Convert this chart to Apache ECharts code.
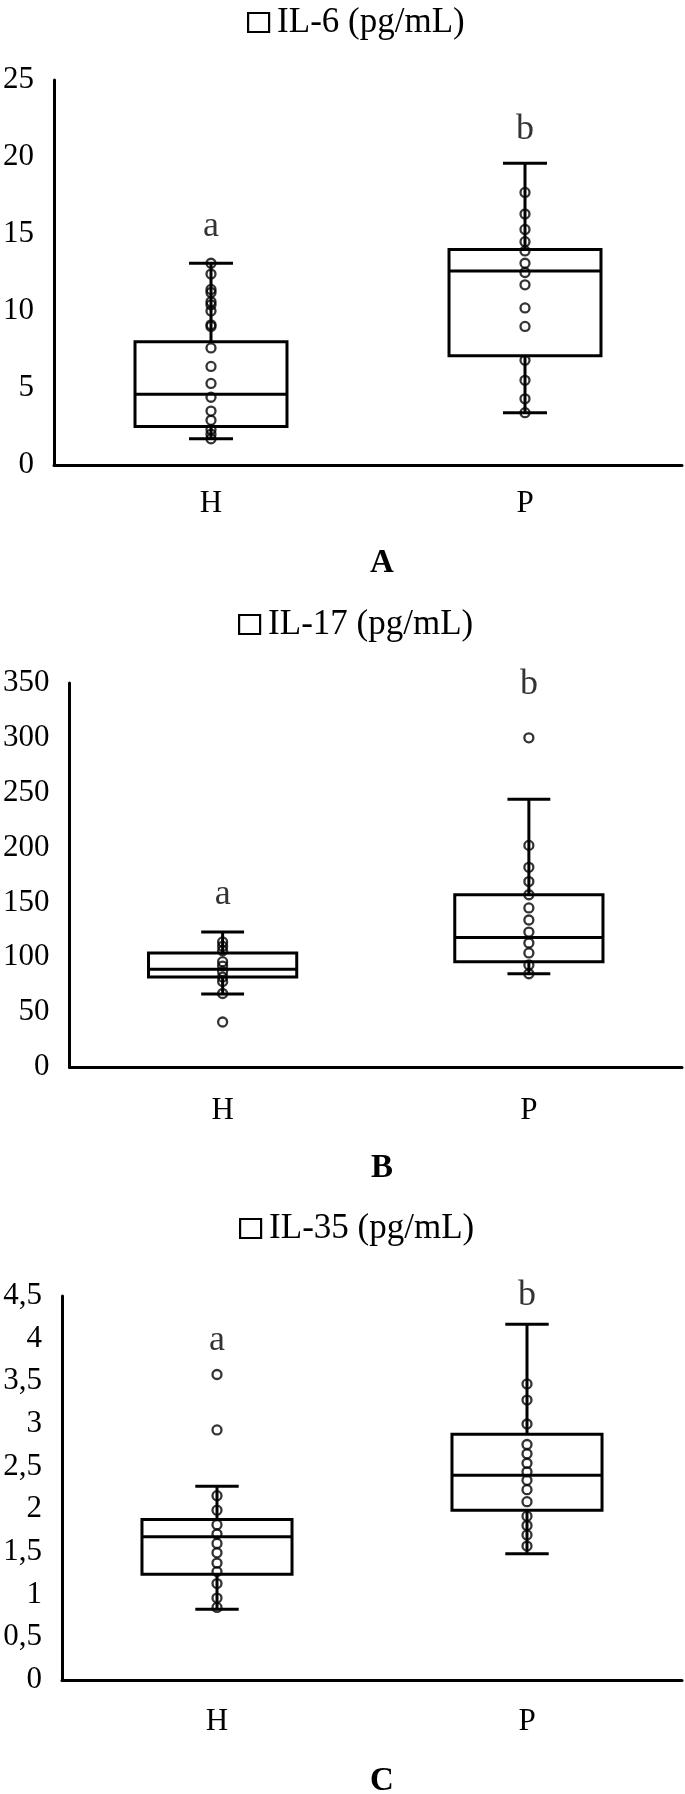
<!DOCTYPE html>
<html>
<head>
<meta charset="utf-8">
<script src="https://cdn.jsdelivr.net/npm/echarts@6/dist/echarts.min.js"></script>
<style>
  html, body { margin: 0; padding: 0; background: #fff; }
  #chart { width: 685px; height: 1794px; }
</style>
</head>
<body>
<div id="chart"></div>
<script>
// ---- data ----
const groups = ['H', 'P'];

// A: IL-6  box = [min, q1, median, q3, max]
const il6Box = [[1.7, 2.5, 4.6, 8.0, 13.1], [3.4, 7.1, 12.6, 14.0, 19.6]];
const il6H = [13.1, 12.4, 11.4, 11.2, 10.6, 10.4, 10.0, 9.1, 9.0, 7.6, 6.4, 5.3, 4.4, 3.5, 2.9, 2.3, 2.0, 1.7];
const il6P = [17.7, 16.3, 15.3, 14.5, 13.9, 13.1, 12.5, 11.7, 10.2, 9.0, 6.8, 5.5, 4.3, 3.4];
const il6Letters = [15.5, 21.8];

// B: IL-17
const il17Box = [[66.5, 82, 89, 104, 123], [85, 96, 118, 157, 244]];
const il17H = [114, 110, 106, 96, 92, 87, 82, 78, 67, 41];
const il17P = [300, 202, 182, 169, 157, 145, 134, 123, 113, 104, 93, 85];
const il17Letters = [157, 349];

// C: IL-35
const il35Box = [[0.83, 1.24, 1.68, 1.88, 2.27], [1.48, 1.99, 2.40, 2.88, 4.17]];
const il35H = [3.58, 2.93, 2.16, 1.99, 1.82, 1.71, 1.60, 1.49, 1.37, 1.27, 1.13, 0.96, 0.85];
const il35P = [3.47, 3.28, 3.0, 2.76, 2.65, 2.54, 2.44, 2.34, 2.23, 2.09, 1.92, 1.81, 1.70, 1.57];
const il35Letters = [3.98, 4.5];

const letters = ['a', 'b'];
const panelNames = ['IL-6 (pg/mL)', 'IL-17 (pg/mL)', 'IL-35 (pg/mL)'];
const panelTags = ['A', 'B', 'C'];

// ---- layout ----
const FONT = '"Liberation Serif", "DejaVu Serif", serif';
const grids = [
  { left: 54, top: 80, width: 628, height: 385 },
  { left: 69, top: 683, width: 613, height: 384 },
  { left: 62, top: 1296, width: 620, height: 384 },
];
const yScales = [
  { max: 25, interval: 5 },
  { max: 350, interval: 50 },
  { max: 4.5, interval: 0.5 },
];
const xLabelMargin = [23, 28, 26];
const legendPos = [
  { left: 242, top: 0 },
  { left: 233, top: 602 },
  { left: 234, top: 1206 },
];
const tagY = [563, 1168, 1781];

const boxes = [il6Box, il17Box, il35Box];
const pointsH = [il6H, il17H, il35H];
const pointsP = [il6P, il17P, il35P];
const letterY = [il6Letters, il17Letters, il35Letters];

// box + whiskers drawn through the axis scales
function renderBox(params, api) {
  const x = api.value(0);
  const lo = api.coord([x, api.value(1)]);
  const q1 = api.coord([x, api.value(2)]);
  const med = api.coord([x, api.value(3)]);
  const q3 = api.coord([x, api.value(4)]);
  const hi = api.coord([x, api.value(5)]);
  const band = api.size([1, 0])[0];
  const bw = band * 0.484;
  const cw = band * 0.14;
  const cx = lo[0];
  const st = { stroke: '#000', lineWidth: 3, fill: null };
  return {
    type: 'group',
    children: [
      { type: 'line', shape: { x1: cx, y1: hi[1], x2: cx, y2: q3[1] }, style: st },
      { type: 'line', shape: { x1: cx, y1: q1[1], x2: cx, y2: lo[1] }, style: st },
      { type: 'line', shape: { x1: cx - cw / 2, y1: hi[1], x2: cx + cw / 2, y2: hi[1] }, style: st },
      { type: 'line', shape: { x1: cx - cw / 2, y1: lo[1], x2: cx + cw / 2, y2: lo[1] }, style: st },
      { type: 'rect', shape: { x: cx - bw / 2, y: q3[1], width: bw, height: q1[1] - q3[1] },
        style: { stroke: '#000', lineWidth: 3, fill: '#fff' } },
      { type: 'line', shape: { x1: cx - bw / 2, y1: med[1], x2: cx + bw / 2, y2: med[1] }, style: st },
    ],
  };
}

const option = {
  animation: false,
  backgroundColor: '#fff',
  grid: grids,
  xAxis: grids.map((g, i) => ({
    type: 'category',
    gridIndex: i,
    data: groups,
    axisLine: { lineStyle: { color: '#000', width: 3 } },
    axisTick: { show: false },
    axisLabel: { color: '#000', fontFamily: FONT, fontSize: 31, margin: xLabelMargin[i] },
  })),
  yAxis: grids.map((g, i) => ({
    type: 'value',
    gridIndex: i,
    min: 0,
    max: yScales[i].max,
    interval: yScales[i].interval,
    splitLine: { show: false },
    axisLine: { show: true, lineStyle: { color: '#000', width: 3 } },
    axisTick: { show: false },
    axisLabel: {
      color: '#000', fontFamily: FONT, fontSize: 31, margin: 20,
      formatter: (v) => String(v).replace('.', ','),
    },
  })),
  legend: panelNames.map((name, i) => ({
    data: [name],
    left: legendPos[i].left,
    top: legendPos[i].top,
    icon: 'rect',
    itemWidth: 21,
    itemHeight: 19,
    selectedMode: false,
    itemStyle: { color: '#fff', borderColor: '#000', borderWidth: 2.2 },
    textStyle: { color: '#000', fontFamily: FONT, fontSize: 35, padding: [0, 0, 0, 3] },
  })),
  graphic: panelTags.map((t, i) => ({
    type: 'text',
    x: 382,
    y: tagY[i],
    style: {
      text: t,
      font: 'bold 33px ' + FONT,
      fill: '#000',
      textAlign: 'center',
      textVerticalAlign: 'middle',
      verticalAlign: 'middle',
    },
  })),
  series: [],
};

for (let i = 0; i < 3; i++) {
  option.series.push({
    name: panelNames[i],
    type: 'custom',
    xAxisIndex: i,
    yAxisIndex: i,
    renderItem: renderBox,
    encode: { x: 0, y: [1, 2, 3, 4, 5] },
    data: boxes[i].map((b, k) => [k].concat(b)),
    z: 2,
  });
  const pts = pointsH[i].map((v) => [0, v]).concat(pointsP[i].map((v) => [1, v]));
  option.series.push({
    name: 'points' + i,
    type: 'scatter',
    xAxisIndex: i,
    yAxisIndex: i,
    symbol: 'circle',
    symbolSize: 9,
    itemStyle: { color: 'rgba(0,0,0,0)', borderColor: '#000', borderWidth: 2.3 },
    data: pts,
    z: 3,
  });
  option.series.push({
    name: 'letters' + i,
    type: 'scatter',
    xAxisIndex: i,
    yAxisIndex: i,
    symbolSize: 0,
    data: letterY[i].map((v, k) => [k, v]),
    label: {
      show: true,
      position: 'inside',
      formatter: (p) => letters[p.dataIndex],
      color: '#000',
      fontFamily: FONT,
      fontSize: 36,
    },
    z: 4,
  });
}

const chart = echarts.init(document.getElementById('chart'));
chart.setOption(option);
</script>
</body>
</html>
